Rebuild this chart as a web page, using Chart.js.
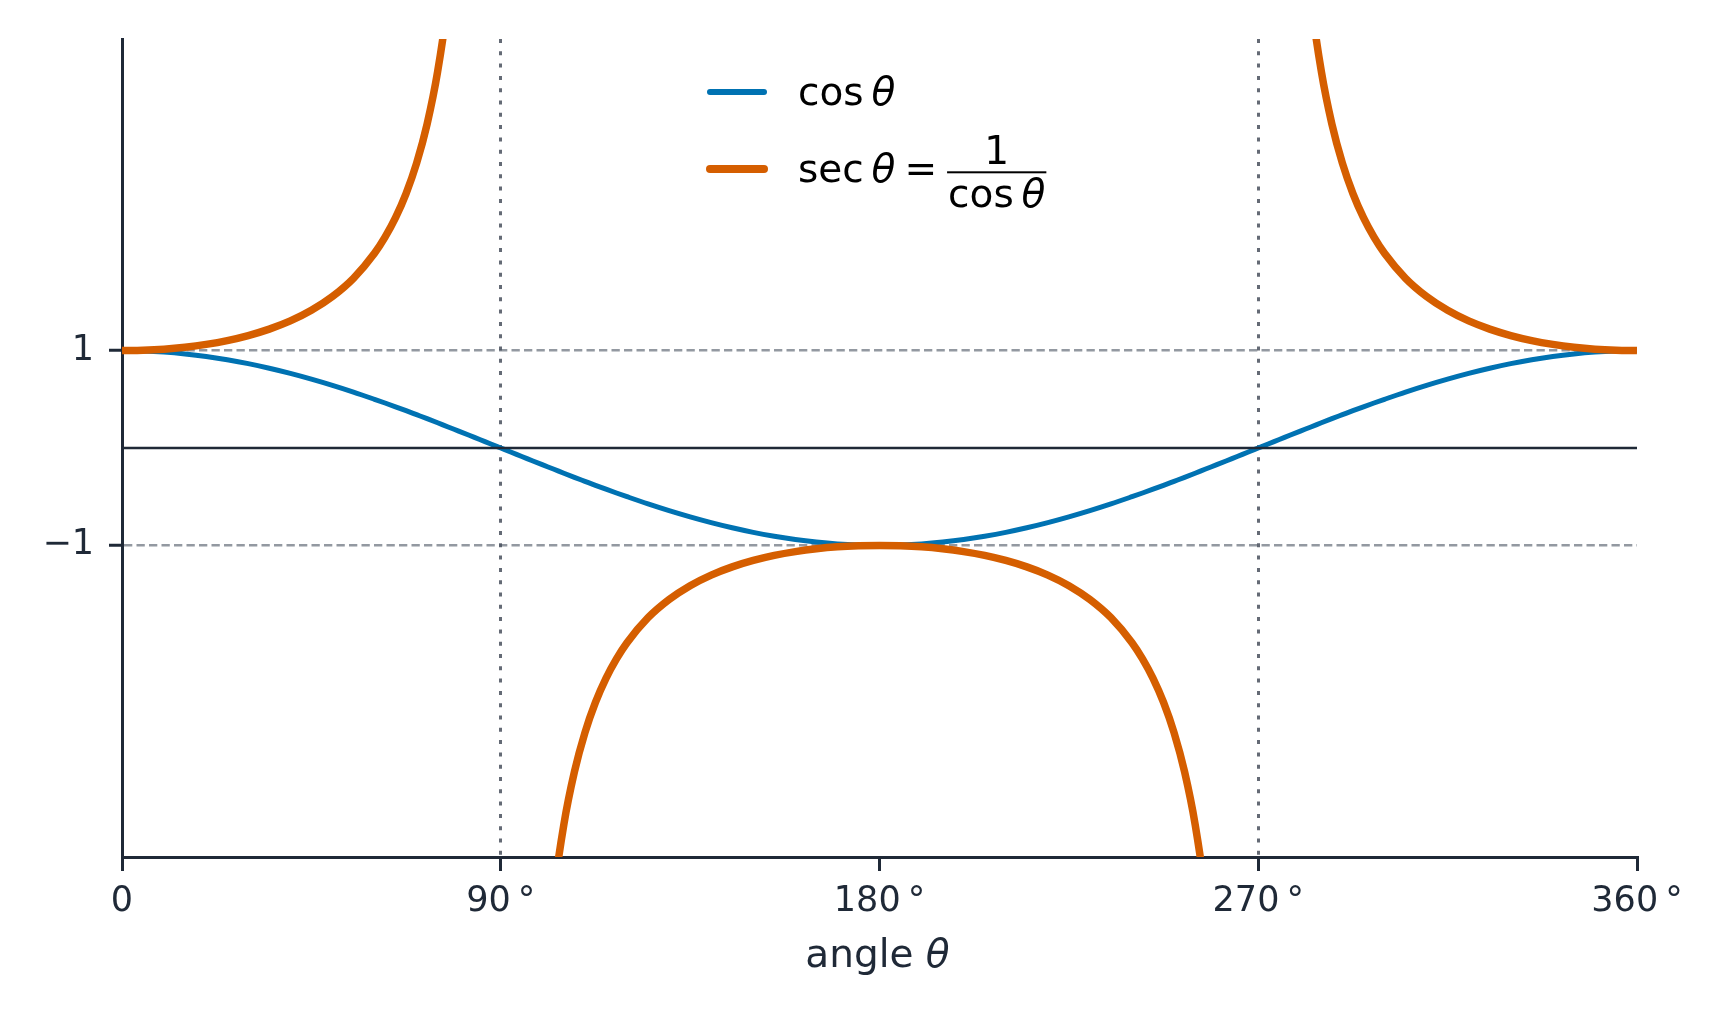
<!DOCTYPE html>
<html>
<head>
<meta charset="utf-8">
<title>cos and sec</title>
<script src="https://cdn.jsdelivr.net/npm/chart.js@4.4.1/dist/chart.umd.min.js"></script>
<style>
  html, body { margin: 0; padding: 0; background: #fff; }
  canvas { display: block; }
</style>
</head>
<body>
<canvas id="my-chart" width="1725" height="1021"></canvas>
<script>
// angle in degrees (denser near the asymptotes)
const angles = [
  0, 5, 10, 15, 20, 25, 30, 35, 40, 45, 50, 55,
  60, 62.5, 65, 67.5, 70, 72.5, 75, 77.5, 80, 82.5, 85, 87.5, 90, 92.5, 95, 97.5, 100, 102.5, 105, 107.5, 110, 112.5, 115, 117.5, 120,
  125, 130, 135, 140, 145, 150, 155, 160, 165, 170, 175, 180, 185, 190, 195, 200, 205, 210, 215, 220, 225, 230, 235,
  240, 242.5, 245, 247.5, 250, 252.5, 255, 257.5, 260, 262.5, 265, 267.5, 270, 272.5, 275, 277.5, 280, 282.5, 285, 287.5, 290, 292.5, 295, 297.5, 300,
  305, 310, 315, 320, 325, 330, 335, 340, 345, 350, 355, 360,
];

const cosValues = [
  1, 0.996, 0.985, 0.966, 0.94, 0.906, 0.866, 0.819, 0.766, 0.707, 0.643, 0.574,
  0.5, 0.462, 0.423, 0.383, 0.342, 0.301, 0.259, 0.216, 0.174, 0.131, 0.087, 0.044, 0, -0.044, -0.087, -0.131, -0.174, -0.216, -0.259, -0.301, -0.342, -0.383, -0.423, -0.462, -0.5,
  -0.574, -0.643, -0.707, -0.766, -0.819, -0.866, -0.906, -0.94, -0.966, -0.985, -0.996, -1, -0.996, -0.985, -0.966, -0.94, -0.906, -0.866, -0.819, -0.766, -0.707, -0.643, -0.574,
  -0.5, -0.462, -0.423, -0.383, -0.342, -0.301, -0.259, -0.216, -0.174, -0.131, -0.087, -0.044, 0, 0.044, 0.087, 0.131, 0.174, 0.216, 0.259, 0.301, 0.342, 0.383, 0.423, 0.462, 0.5,
  0.574, 0.643, 0.707, 0.766, 0.819, 0.866, 0.906, 0.94, 0.966, 0.985, 0.996, 1,
];

// null where the curve blows up
const secValues = [
  1, 1.004, 1.015, 1.035, 1.064, 1.103, 1.155, 1.221, 1.305, 1.414, 1.556, 1.743,
  2, 2.166, 2.366, 2.613, 2.924, 3.326, 3.864, 4.62, 5.759, 7.661, 11.47, 22.93, null, -22.93, -11.47, -7.661, -5.759, -4.62, -3.864, -3.326, -2.924, -2.613, -2.366, -2.166, -2,
  -1.743, -1.556, -1.414, -1.305, -1.221, -1.155, -1.103, -1.064, -1.035, -1.015, -1.004, -1, -1.004, -1.015, -1.035, -1.064, -1.103, -1.155, -1.221, -1.305, -1.414, -1.556, -1.743,
  -2, -2.166, -2.366, -2.613, -2.924, -3.326, -3.864, -4.62, -5.759, -7.661, -11.47, -22.93, null, 22.93, 11.47, 7.661, 5.759, 4.62, 3.864, 3.326, 2.924, 2.613, 2.366, 2.166, 2,
  1.743, 1.556, 1.414, 1.305, 1.221, 1.155, 1.103, 1.064, 1.035, 1.015, 1.004, 1,
];

const xTicks = [0, 90, 180, 270, 360];
const yTicks = [-1, 1];
const asymptotes = [90, 270];

const blue = '#0072B2';
const orange = '#D55E00';
const ink = '#1f2937';
const family = '"DejaVu Sans"';

function toPoints(values) {
  return angles.map((a, i) => ({ x: a, y: values[i] }));
}

// writes text pieces one after another, returns the x where it stopped
function drawPieces(ctx, pieces, x, y, size) {
  pieces.forEach(([text, italic]) => {
    ctx.font = `${italic ? 'italic ' : ''}${size}px ${family}`;
    ctx.fillText(text, x, y);
    x += ctx.measureText(text).width;
  });
  return x;
}

function piecesWidth(ctx, pieces, size) {
  let w = 0;
  pieces.forEach(([text, italic]) => {
    ctx.font = `${italic ? 'italic ' : ''}${size}px ${family}`;
    w += ctx.measureText(text).width;
  });
  return w;
}

const cosText = [['cos', false], ['\u2009', false], ['θ', true]];

const extras = {
  id: 'extras',
  afterDatasetsDraw(chart) {
    const { ctx, chartArea, scales } = chart;
    const y0 = scales.y.getPixelForValue(0);
    ctx.save();
    ctx.strokeStyle = ink;
    ctx.lineWidth = 2.5;
    ctx.beginPath();
    ctx.moveTo(chartArea.left, y0);
    ctx.lineTo(chartArea.right, y0);
    ctx.stroke();
    ctx.restore();
  },
  afterDraw(chart) {
    const { ctx, chartArea } = chart;
    const size = 39;
    ctx.save();
    ctx.textAlign = 'left';
    ctx.textBaseline = 'alphabetic';

    // axis title
    const title = [['angle ', false], ['θ', true]];
    const cx = (chartArea.left + chartArea.right) / 2 - 2;
    ctx.fillStyle = ink;
    drawPieces(ctx, title, cx - piecesWidth(ctx, title, size) / 2, 967, size);

    // legend
    ctx.lineCap = 'round';
    ctx.strokeStyle = blue;
    ctx.lineWidth = 6;
    ctx.beginPath();
    ctx.moveTo(710, 92);
    ctx.lineTo(764, 92);
    ctx.stroke();
    ctx.strokeStyle = orange;
    ctx.lineWidth = 8;
    ctx.beginPath();
    ctx.moveTo(710, 169);
    ctx.lineTo(764, 169);
    ctx.stroke();

    ctx.fillStyle = '#000';
    drawPieces(ctx, cosText, 798, 105, size);

    let x = drawPieces(ctx, [['sec', false], ['\u2009', false], ['θ', true]], 798, 182, size);
    x += 9;
    ctx.font = `${size}px ${family}`;
    ctx.fillText('=', x, 182);
    x += ctx.measureText('=').width + 10;

    const denomW = piecesWidth(ctx, cosText, size);
    const barW = denomW + 2;
    ctx.fillRect(x, 171.3, barW, 2);
    ctx.font = `${size}px ${family}`;
    ctx.textAlign = 'center';
    ctx.fillText('1', x + barW / 2, 164);
    ctx.textAlign = 'left';
    drawPieces(ctx, cosText, x + 1, 207, size);
    ctx.restore();
  },
};

const tickFont = { family: 'DejaVu Sans', size: 35 };

const ctx = document.getElementById('my-chart').getContext('2d');

const myChart = new Chart(ctx, {
  type: 'line',
  data: {
    datasets: [
      {
        label: 'cos θ',
        data: toPoints(cosValues),
        borderColor: blue,
        borderWidth: 5,
        pointRadius: 0,
        cubicInterpolationMode: 'monotone',
        borderJoinStyle: 'round',
        clip: 0,
        order: 2,
      },
      {
        label: 'sec θ = 1/cos θ',
        data: toPoints(secValues),
        borderColor: orange,
        borderWidth: 7.5,
        pointRadius: 0,
        cubicInterpolationMode: 'monotone',
        borderJoinStyle: 'round',
        spanGaps: false,
        clip: 0,
        order: 1,
      },
    ],
  },
  options: {
    responsive: false,
    devicePixelRatio: 1,
    animation: false,
    events: [],
    elements: { line: { capBezierPoints: false } },
    layout: { padding: { top: 39, right: 88, left: 0, bottom: 0 } },
    plugins: {
      legend: { display: false },
      tooltip: { enabled: false },
    },
    scales: {
      x: {
        type: 'linear',
        min: 0,
        max: 360,
        z: 1,
        afterBuildTicks: (scale) => {
          scale.ticks = xTicks.map((v) => ({ value: v }));
        },
        afterFit: (scale) => {
          scale.height = 164;
        },
        ticks: {
          callback: (v) => (v === 0 ? '0' : `${v}\u2009°`),
          font: tickFont,
          color: ink,
          padding: 10,
          maxRotation: 0,
          autoSkip: false,
        },
        grid: {
          color: (c) => (c.tick && asymptotes.includes(c.tick.value) ? '#646a75' : 'rgba(0,0,0,0)'),
          lineWidth: 3,
          drawTicks: true,
          tickLength: 14,
          tickWidth: 3,
          tickColor: ink,
        },
        border: { display: true, color: ink, width: 3, dash: [4, 8.3] },
      },
      y: {
        type: 'linear',
        min: -4.2,
        max: 4.2,
        z: 1,
        afterBuildTicks: (scale) => {
          scale.ticks = yTicks.map((v) => ({ value: v }));
        },
        afterFit: (scale) => {
          scale.width = 122;
        },
        ticks: {
          callback: (v) => String(v).replace('-', '\u2212'),
          font: tickFont,
          color: ink,
          padding: 15,
        },
        grid: {
          color: 'rgba(75,85,99,0.6)',
          lineWidth: 2.5,
          drawTicks: true,
          tickLength: 13,
          tickWidth: 3,
          tickColor: ink,
        },
        border: { display: true, color: ink, width: 3, dash: [8.3, 4.2] },
      },
    },
  },
  plugins: [extras],
});
</script>
</body>
</html>
